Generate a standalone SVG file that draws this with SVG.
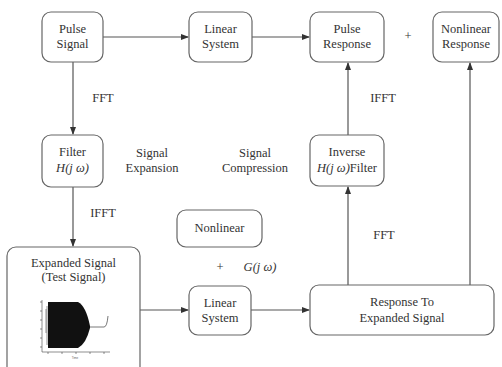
<svg xmlns="http://www.w3.org/2000/svg" width="502" height="367" viewBox="0 0 502 367">
<style>
.box{fill:#fff;stroke:#666;stroke-width:1.2}
.t{font-size:12.5px;fill:#333;text-anchor:middle}
.i{font-style:italic}
.ln{stroke:#555;stroke-width:1.2;fill:none}
.ax{stroke:#444;stroke-width:0.6;fill:none}
</style>
<defs>
<marker id="ah" markerWidth="8" markerHeight="6" refX="7" refY="3" orient="auto" markerUnits="userSpaceOnUse">
<path d="M0,0 L8,3 L0,6 z" fill="#333"/>
</marker>
</defs>
<rect width="502" height="367" fill="#fff"/>
<g id="connectors">
<line class="ln" x1="103" y1="37" x2="188" y2="37" marker-end="url(#ah)"/>
<line class="ln" x1="252" y1="37" x2="309" y2="37" marker-end="url(#ah)"/>
<line class="ln" x1="73" y1="62" x2="73" y2="134" marker-end="url(#ah)"/>
<line class="ln" x1="73" y1="187" x2="73" y2="246" marker-end="url(#ah)"/>
<line class="ln" x1="140" y1="310" x2="188" y2="310" marker-end="url(#ah)"/>
<line class="ln" x1="251" y1="310" x2="309" y2="310" marker-end="url(#ah)"/>
<line class="ln" x1="348" y1="285" x2="348" y2="187" marker-end="url(#ah)"/>
<line class="ln" x1="348" y1="135" x2="348" y2="63" marker-end="url(#ah)"/>
<line class="ln" x1="470" y1="285" x2="470" y2="63" marker-end="url(#ah)"/>
</g>
<g font-family="Liberation Serif, Times New Roman, serif">
<g id="pulse-signal">
<rect class="box" x="42" y="12" width="61" height="50" rx="9"/>
<text class="t" x="72.5" y="33">Pulse</text>
<text class="t" x="72.5" y="48">Signal</text>
</g>
<g id="linear-system-top">
<rect class="box" x="189" y="12" width="63" height="50" rx="9"/>
<text class="t" x="220.5" y="33">Linear</text>
<text class="t" x="220.5" y="48">System</text>
</g>
<g id="pulse-response">
<rect class="box" x="310" y="12" width="74" height="50" rx="9"/>
<text class="t" x="347" y="33">Pulse</text>
<text class="t" x="347" y="48">Response</text>
</g>
<g id="nonlinear-response">
<rect class="box" x="433" y="12" width="66" height="50" rx="9"/>
<text class="t" x="466" y="33">Nonlinear</text>
<text class="t" x="466" y="48">Response</text>
</g>
<g id="filter">
<rect class="box" x="42" y="135" width="61" height="52" rx="9"/>
<text class="t" x="72.5" y="156">Filter</text>
<text class="t i" x="72.5" y="172">H(j ω)</text>
</g>
<g id="inverse-filter">
<rect class="box" x="310" y="135" width="74" height="51" rx="9"/>
<text class="t" x="347" y="156">Inverse</text>
<text class="t" x="347" y="172"><tspan class="i">H(j ω)</tspan>Filter</text>
</g>
<g id="nonlinear">
<rect class="box" x="177" y="210" width="85" height="37" rx="9"/>
<text class="t" x="219.5" y="232">Nonlinear</text>
</g>
<g id="expanded-signal">
<rect class="box" x="7" y="247" width="133" height="130" rx="9"/>
<text class="t" x="73.5" y="267">Expanded Signal</text>
<text class="t" x="73.5" y="281">(Test Signal)</text>
<g id="plot">
<line class="ax" x1="42" y1="300" x2="42" y2="352"/>
<line class="ax" x1="42" y1="352" x2="110" y2="352"/>
<g stroke="#444" stroke-width="0.6">
<line x1="40" y1="302" x2="42" y2="302"/><line x1="40" y1="311" x2="42" y2="311"/>
<line x1="40" y1="320" x2="42" y2="320"/><line x1="40" y1="329" x2="42" y2="329"/>
<line x1="40" y1="338" x2="42" y2="338"/><line x1="40" y1="347" x2="42" y2="347"/>
<line x1="48" y1="352" x2="48" y2="354"/><line x1="62" y1="352" x2="62" y2="354"/>
<line x1="76" y1="352" x2="76" y2="354"/><line x1="90" y1="352" x2="90" y2="354"/>
<line x1="104" y1="352" x2="104" y2="354"/>
</g>
<path d="M48,302 L78,302 Q86,306 90,326 L90,328 Q86,344 78,348 L48,348 Z" fill="#111"/>
<path d="M47,306 L47,345 M46,309 L46,333" stroke="#777" stroke-width="0.8"/>
<path d="M90,327 L104,327 Q107,327 108,316" stroke="#555" stroke-width="0.8" fill="none"/>
<text x="75" y="359" font-family="Liberation Sans, sans-serif" font-size="3" fill="#666" text-anchor="middle">Time</text>
</g>
</g>
<g id="linear-system-bottom">
<rect class="box" x="189" y="286" width="62" height="49" rx="9"/>
<text class="t" x="220" y="307">Linear</text>
<text class="t" x="220" y="322">System</text>
</g>
<g id="response-expanded">
<rect class="box" x="310" y="285" width="184" height="50" rx="9"/>
<text class="t" x="402" y="306">Response To</text>
<text class="t" x="402" y="322">Expanded Signal</text>
</g>
<g id="labels">
<text class="t" x="103" y="102">FFT</text>
<text class="t" x="383" y="102">IFFT</text>
<text class="t" x="408" y="40">+</text>
<text class="t" x="152" y="157">Signal</text>
<text class="t" x="152" y="172">Expansion</text>
<text class="t" x="255" y="157">Signal</text>
<text class="t" x="255" y="172">Compression</text>
<text class="t" x="103" y="217">IFFT</text>
<text class="t" x="384" y="239">FFT</text>
<text class="t" x="220" y="271">+</text>
<text class="t i" x="260" y="271">G(j ω)</text>
</g>
</g>
</svg>
